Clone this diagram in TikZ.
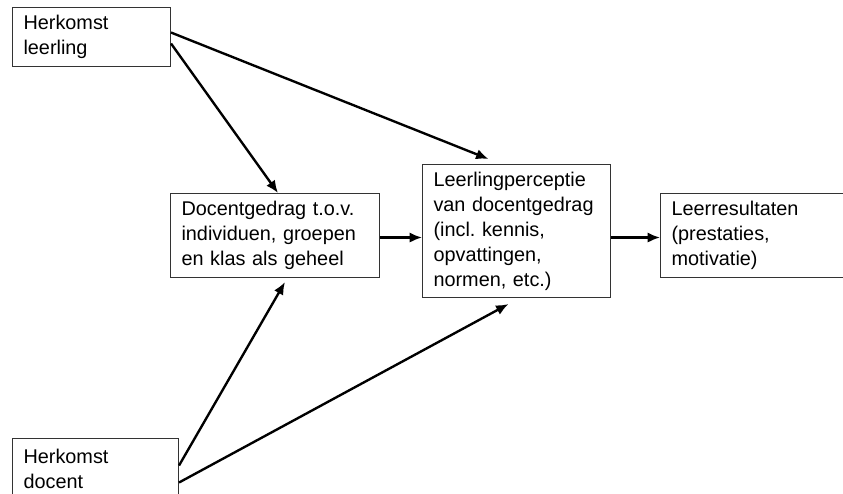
\documentclass[tikz,border=0pt]{standalone}
\usepackage{fontspec}
\setmainfont{Liberation Sans}
\usetikzlibrary{arrows.meta}
\frenchspacing
\begin{document}
\begin{tikzpicture}[x=.02cm,y=-.02cm,>={Latex[length=2.5mm,width=2.1mm]},
  font=\fontsize{11.3pt}{14.2pt}\selectfont,
  box/.style={draw=black!80,line width=.6pt,anchor=north west,align=left,inner xsep=.22cm,inner ysep=0pt},
  arr/.style={->,line width=1.35pt}]
  \useasboundingbox (0,0) rectangle (843,494);
  % model: background of pupil and teacher via behaviour and perception to results
  \node[box,text width=2.72cm,minimum height=1.18cm] (leerling) at (12,7) {Herkomst\\leerling};
  \node[box,text width=2.88cm,minimum height=1.2cm] (docent) at (12,438) {Herkomst\\docent};
  \node[box,text width=3.74cm,minimum height=1.68cm] (gedrag) at (170,193)
    {Docentgedrag t.o.v.\\individuen, groepen\\en klas als geheel};
  \node[box,text width=3.32cm,minimum height=2.66cm] (perceptie) at (422,164)
    {Leerlingperceptie\\van docentgedrag\\(incl. kennis,\\opvattingen,\\normen, etc.)};
  \node[box,text width=3.56cm,minimum height=1.68cm] (resultaten) at (660,193)
    {Leerresultaten\\(prestaties,\\motivatie)};
  \draw[arr] ([yshift=.09cm]leerling.east) -- ([xshift=-.56cm,yshift=.1cm]perceptie.north);
  \draw[arr] ([yshift=-.13cm]leerling.east) -- ([xshift=.06cm]gedrag.north);
  \draw[arr] ([yshift=.06cm]docent.east) -- ([xshift=.2cm,yshift=-.08cm]gedrag.south);
  \draw[arr] ([yshift=-.28cm]docent.east) -- ([xshift=-.16cm,yshift=-.12cm]perceptie.south);
  \draw[arr] ([yshift=-.04cm]gedrag.east) -- ([yshift=-.04cm]gedrag.east -| perceptie.west);
  \draw[arr] ([yshift=-.04cm]resultaten.west -| perceptie.east) -- ([yshift=-.04cm]resultaten.west);
\end{tikzpicture}
\end{document}
